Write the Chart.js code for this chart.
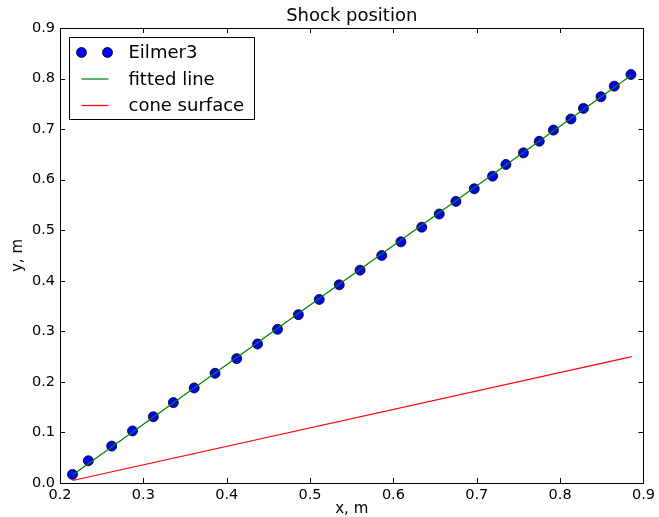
<!DOCTYPE html>
<html lang="en">
<head>
<meta charset="UTF-8">
<title>Shock position</title>
<script src="https://cdn.jsdelivr.net/npm/chart.js@4.4.1/dist/chart.umd.min.js"></script>
<style>
  html, body { margin: 0; padding: 0; background: #fff; }
  #wrap { position: relative; width: 659px; height: 517px; }
</style>
</head>
<body>
<div id="wrap"><canvas id="shockChart" width="659" height="517"></canvas></div>
<script>
// Eilmer3 shock points (x, y in metres)
const shockX = [0.215, 0.234, 0.262, 0.287, 0.312, 0.336, 0.361, 0.386, 0.412, 0.437,
                0.461, 0.486, 0.511, 0.535, 0.560, 0.586, 0.609, 0.634, 0.655, 0.675,
                0.697, 0.719, 0.735, 0.756, 0.775, 0.792, 0.813, 0.828, 0.849, 0.865, 0.885];
const shockY = [0.017, 0.044, 0.073, 0.103, 0.131, 0.159, 0.188, 0.217, 0.246, 0.275,
                0.304, 0.333, 0.363, 0.392, 0.421, 0.450, 0.477, 0.506, 0.532, 0.557,
                0.582, 0.607, 0.630, 0.653, 0.676, 0.698, 0.720, 0.741, 0.764, 0.785, 0.808];

// fitted line and cone surface end points
const fitX = [0.215, 0.885];
const fitY = [0.016, 0.806];
const coneX = [0.215, 0.886];
const coneY = [0.005, 0.250];

const xTicks = [0.2, 0.3, 0.4, 0.5, 0.6, 0.7, 0.8, 0.9];
const yTicks = [0.0, 0.1, 0.2, 0.3, 0.4, 0.5, 0.6, 0.7, 0.8, 0.9];

const TITLE = 'Shock position';
const FONT = "'DejaVu Sans', sans-serif";
const pts = (xs, ys) => xs.map((x, i) => ({ x: x, y: ys[i] }));

// box round the axes with inward ticks on all four sides, like matplotlib
const frame = {
  id: 'frame',
  afterDatasetsDraw(chart) {
    const { ctx, chartArea: a, scales } = chart;
    ctx.save();
    ctx.strokeStyle = '#000';
    ctx.lineWidth = 1;
    ctx.beginPath();
    xTicks.forEach(v => {
      const px = Math.round(scales.x.getPixelForValue(v)) + 0.5;
      ctx.moveTo(px, a.bottom); ctx.lineTo(px, a.bottom - 5);
      ctx.moveTo(px, a.top); ctx.lineTo(px, a.top + 5);
    });
    yTicks.forEach(v => {
      const py = Math.round(scales.y.getPixelForValue(v)) + 0.5;
      ctx.moveTo(a.left, py); ctx.lineTo(a.left + 5, py);
      ctx.moveTo(a.right, py); ctx.lineTo(a.right - 5, py);
    });
    ctx.stroke();
    ctx.strokeRect(Math.round(a.left) + 0.5, Math.round(a.top) + 0.5,
                   Math.round(a.right - a.left), Math.round(a.bottom - a.top));

    // title centred over the axes, not the whole canvas
    ctx.fillStyle = '#000';
    ctx.font = '18px ' + FONT;
    ctx.textAlign = 'center';
    ctx.textBaseline = 'alphabetic';
    ctx.fillText(TITLE, (a.left + a.right) / 2, a.top - 7);
    ctx.restore();
  }
};

// matplotlib style legend in the upper left corner
const mplLegend = {
  id: 'mplLegend',
  afterDraw(chart) {
    const { ctx, chartArea: a } = chart;
    const left = Math.round(a.left) + 9.5, top = Math.round(a.top) + 9.5;
    const w = 185, h = 82;
    ctx.save();
    ctx.fillStyle = '#fff';
    ctx.fillRect(left, top, w, h);
    ctx.strokeStyle = '#000';
    ctx.lineWidth = 1;
    ctx.strokeRect(left, top, w, h);

    const rows = [
      { label: 'Eilmer3', kind: 'point' },
      { label: 'fitted line', kind: 'line', color: '#008000' },
      { label: 'cone surface', kind: 'line', color: '#ff0000' }
    ];
    ctx.font = '18px ' + FONT;
    ctx.textBaseline = 'middle';
    rows.forEach((r, i) => {
      const y = top + 15 + i * 26.5;
      if (r.kind === 'point') {
        [left + 12, left + 38].forEach(cx => {
          ctx.beginPath();
          ctx.arc(cx, y, 5, 0, Math.PI * 2);
          ctx.fillStyle = '#0000ff';
          ctx.fill();
          ctx.strokeStyle = '#000';
          ctx.lineWidth = 0.8;
          ctx.stroke();
        });
      } else {
        ctx.beginPath();
        ctx.moveTo(left + 12, y); ctx.lineTo(left + 39, y);
        ctx.strokeStyle = r.color;
        ctx.lineWidth = 1.2;
        ctx.stroke();
      }
      ctx.fillStyle = '#000';
      ctx.fillText(r.label, left + 59, y + 1);
    });
    ctx.restore();
  }
};

new Chart(document.getElementById('shockChart'), {
  type: 'scatter',
  data: {
    datasets: [
      {
        label: 'Eilmer3',
        data: pts(shockX, shockY),
        showLine: false,
        pointRadius: 5,
        pointBackgroundColor: '#0000ff',
        pointBorderColor: '#000',
        pointBorderWidth: 0.8,
        order: 3
      },
      {
        label: 'fitted line',
        data: pts(fitX, fitY),
        showLine: true,
        pointRadius: 0,
        borderColor: '#008000',
        borderWidth: 1.2,
        order: 1
      },
      {
        label: 'cone surface',
        data: pts(coneX, coneY),
        showLine: true,
        pointRadius: 0,
        borderColor: '#ff0000',
        borderWidth: 1.2,
        order: 2
      }
    ]
  },
  options: {
    responsive: false,
    animation: false,
    devicePixelRatio: 1,
    layout: { padding: { left: 0, right: 13, top: 28, bottom: 0 } },
    plugins: {
      legend: { display: false },
      tooltip: { enabled: false },
      title: { display: false }
    },
    scales: {
      x: {
        type: 'linear',
        min: 0.2, max: 0.9,
        afterBuildTicks: s => { s.ticks = xTicks.map(v => ({ value: v })); },
        afterFit: s => { s.height = 34; },
        grid: { display: false, drawTicks: false },
        border: { display: false },
        ticks: {
          color: '#000',
          padding: 4,
          font: { family: FONT, size: 14.5 },
          callback: v => v.toFixed(1)
        },
        title: {
          display: true,
          text: 'x, m',
          color: '#000',
          padding: { top: 0, bottom: -1 },
          font: { family: FONT, size: 15 }
        }
      },
      y: {
        type: 'linear',
        min: 0, max: 0.9,
        afterBuildTicks: s => { s.ticks = yTicks.map(v => ({ value: v })); },
        afterFit: s => { s.width = 60; },
        grid: { display: false, drawTicks: false },
        border: { display: false },
        ticks: {
          color: '#000',
          padding: 5,
          font: { family: FONT, size: 14.5 },
          callback: v => v.toFixed(1)
        },
        title: {
          display: true,
          text: 'y, m',
          color: '#000',
          padding: { top: 9, bottom: 0 },
          font: { family: FONT, size: 15 }
        }
      }
    }
  },
  plugins: [frame, mplLegend]
});
</script>
</body>
</html>
